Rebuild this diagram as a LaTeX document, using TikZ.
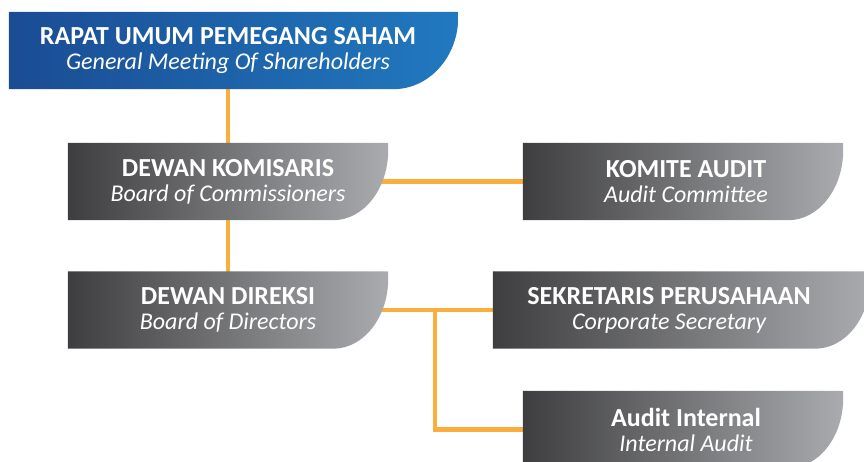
\documentclass[tikz,border=0pt]{standalone}
\usepackage{fontspec}
\setmainfont{Carlito}
\usetikzlibrary{positioning,backgrounds}

\definecolor{rupsdark}{HTML}{1A4C94}
\definecolor{rupslight}{HTML}{2179BF}
\definecolor{boxdark}{HTML}{3E3E40}
\definecolor{boxlight}{HTML}{AAABAE}
\definecolor{linkorange}{HTML}{FBAE3C}

\tikzset{
  card/.style={rectangle, minimum height=77pt, inner sep=0pt, align=center,
    text=white, font=\fontsize{26}{25}\selectfont\bfseries},
  link/.style={draw=linkorange, line width=4.5pt},
}
% subtitle in english
\newcommand{\eng}[1]{{\fontsize{24}{25}\selectfont\mdseries\itshape #1}}
% card shading: [extra right] node, left colour, right colour, x radius, y radius
\newcommand{\cardshade}[6][0pt]{%
  \shade[left color=#3, right color=#4] (#2.north west) -- ([xshift=#1]#2.north east)
    -- ([xshift=#1, yshift=#6]#2.south east) arc[start angle=0, end angle=-90, x radius=#5, y radius=#6]
    -- (#2.south west) -- cycle;}

\begin{document}
\begin{tikzpicture}[x = 1pt, y = -1pt]
    \useasboundingbox (0,0) rectangle (864,461);
    \node[card, minimum width=438pt] (rups) at (228,50.5) {RAPAT UMUM PEMEGANG SAHAM\\ \eng{General Meeting Of Shareholders}};
    \node[card, minimum width=320pt] (dk) at (228,181.5) {DEWAN KOMISARIS\\ \eng{Board of Commissioners}};
    \node[card, minimum width=326pt] (ka) at (686,181.5) {KOMITE AUDIT\\ \eng{Audit Committee}};
    \node[card, minimum width=320pt] (dd) at (228,310) {DEWAN DIREKSI\\ \eng{Board of Directors}};
    \node[card, minimum width=352pt] (sek) at (669,310) {SEKRETARIS PERUSAHAAN\\ \eng{Corporate Secretary}};
    \node[card, minimum width=326pt] (ai) at (686,429.5) {Audit Internal\\ \eng{Internal Audit}};
    \coordinate[right=47pt of dd.east] (br);

    \begin{scope}[on background layer]
    % connectors
    \draw[link] (dk.center) -- (dk.center |- rups.center);
    \draw[link] (dk.center) -- (dd.center);
    \draw[link] (dk.center) -- (ka.center);
    \draw[link] (dd.center) -- (sek.center);
    \draw[link] (br) |- (ai.center);
    % cards
    \cardshade[11pt]{rups}{rupsdark}{rupslight}{65pt}{72pt}
    \cardshade{dk}{boxdark}{boxlight}{55pt}{70pt}
    \cardshade[-6pt]{ka}{boxdark}{boxlight}{55pt}{70pt}
    \cardshade{dd}{boxdark}{boxlight}{55pt}{70pt}
    \cardshade[25pt]{sek}{boxdark}{boxlight}{55pt}{70pt}
    \cardshade[-6pt]{ai}{boxdark}{boxlight}{55pt}{70pt}
    \end{scope}
\end{tikzpicture}
\end{document}
